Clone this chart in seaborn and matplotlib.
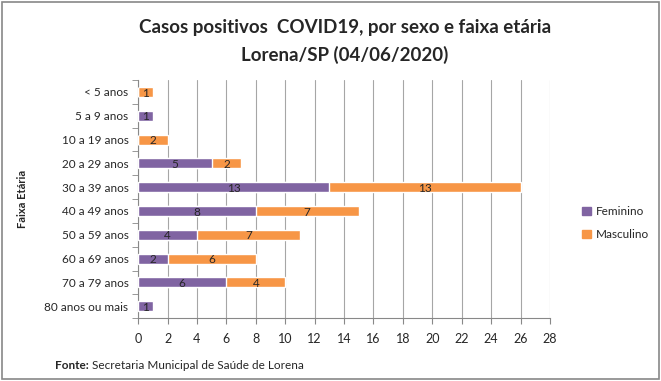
import numpy as np
import pandas as pd
import matplotlib
matplotlib.use("Agg")
import matplotlib.pyplot as plt
import seaborn as sns
from matplotlib.patches import Patch

faixas = ["< 5 anos", "5 a 9 anos", "10 a 19 anos", "20 a 29 anos", "30 a 39 anos",
          "40 a 49 anos", "50 a 59 anos", "60 a 69 anos", "70 a 79 anos", "80 anos ou mais"]
feminino = [0, 1, 0, 5, 13, 8, 4, 2, 6, 1]
masculino = [1, 0, 2, 2, 13, 7, 7, 6, 4, 0]

roxo = "#8064A2"
laranja = "#F79646"

df = pd.DataFrame({"faixa": faixas, "Feminino": feminino, "Masculino": masculino})
df["total"] = df["Feminino"] + df["Masculino"]

sns.set_style("white")
plt.rcParams["font.family"] = ["Lato", "DejaVu Sans"]

fig = plt.figure(figsize=(6.61, 3.81), dpi=100)
ax = fig.add_axes([0.209, 0.165, 0.623, 0.625])

# total first (orange), feminine part drawn on top
sns.barplot(data=df, y="faixa", x="total", color=laranja, orient="h",
            width=0.42, saturation=1, ax=ax, zorder=2)
sns.barplot(data=df, y="faixa", x="Feminino", color=roxo, orient="h",
            width=0.42, saturation=1, ax=ax, zorder=3)

for i, (f, m) in enumerate(zip(feminino, masculino)):
    if f > 0:
        ax.text(f / 2, i + 0.05, str(f), ha="center", va="center", fontsize=8.5, zorder=4)
    if m > 0:
        ax.text(f + m / 2, i + 0.05, str(m), ha="center", va="center", fontsize=8.5, zorder=4)

ax.set_xlim(0, 28)
ax.set_xticks(np.arange(0, 29, 2))
ax.set_ylim(len(faixas) - 0.5, -0.5)
ax.set_xlabel("")
ax.set_ylabel("Faixa Etária", fontsize=8, fontweight="bold", labelpad=12)
ax.xaxis.grid(True, color="#A6A6A6", linewidth=0.8, zorder=0)
ax.set_axisbelow(True)
for s in ["top", "right"]:
    ax.spines[s].set_visible(False)
for s in ["left", "bottom"]:
    ax.spines[s].set_color("#888888")
    ax.spines[s].set_linewidth(0.8)

ax.tick_params(axis="x", labelsize=9, length=4, color="#888888", direction="out", bottom=True, pad=7)
ax.tick_params(axis="y", which="major", labelsize=8.5, length=0, pad=7)
ax.set_yticks(np.arange(-0.5, len(faixas), 1), minor=True)
ax.tick_params(axis="y", which="minor", length=4, color="#888888", direction="out", left=True)

fig.legend(handles=[Patch(color=roxo, label="Feminino"), Patch(color=laranja, label="Masculino")],
           loc="center left", bbox_to_anchor=(0.865, 0.415), frameon=False,
           fontsize=8.5, handlelength=0.7, handleheight=0.7, labelspacing=1.0, handletextpad=0.4)

fig.text(0.522, 0.928, "Casos positivos  COVID19, por sexo e faixa etária",
         ha="center", va="center", fontsize=13.5, fontweight="bold")
fig.text(0.522, 0.857, "Lorena/SP (04/06/2020)",
         ha="center", va="center", fontsize=13.5, fontweight="bold")

fig.text(0.083, 0.04, "Fonte:", ha="left", va="center", fontsize=8.5, fontweight="bold")
fig.text(0.139, 0.04, "Secretaria Municipal de Saúde de Lorena", ha="left", va="center", fontsize=8.5)

fig.patches.append(plt.Rectangle((0.003, 0.005), 0.994, 0.99, transform=fig.transFigure,
                                 fill=False, edgecolor="#888888", linewidth=1.2))

fig.savefig("out.png", dpi=100)
